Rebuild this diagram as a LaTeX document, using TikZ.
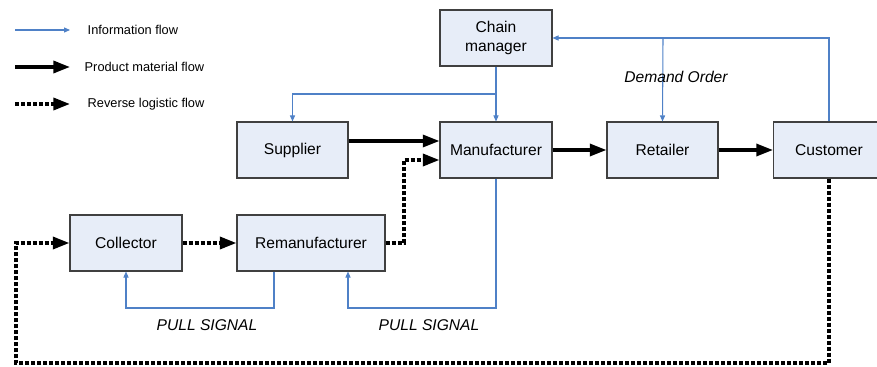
\documentclass[tikz,border=0pt]{standalone}
\usepackage{fontspec}
\setmainfont{Liberation Sans}
\usetikzlibrary{arrows.meta}

\definecolor{boxfill}{RGB}{231,237,248}
\definecolor{boxline}{RGB}{64,64,64}
\definecolor{infoblue}{RGB}{79,129,199}

\tikzset{
  unit/.style={draw=boxline, fill=boxfill, line width=0.8pt, minimum width=83.25pt,
    minimum height=42pt, inner sep=2pt, font=\fontsize{11.7}{14}\selectfont, align=center},
  info/.style={draw=infoblue, line width=0.8pt, -{Triangle[length=4.5pt,width=3.8pt]}},
  product/.style={draw=black, line width=2.5pt, -{Triangle[length=12.5pt,width=9pt]}},
  reverse/.style={draw=black, line width=2.6pt, dash pattern=on 3pt off 1.5pt,
    -{Triangle[length=12.5pt,width=9pt]}},
  legendtext/.style={anchor=west, font=\fontsize{9.6}{11}\selectfont},
  remark/.style={font=\fontsize{11.7}{14}\itshape\selectfont}
}

\begin{document}
\begin{tikzpicture}[x=0.75pt, y=-0.75pt]
  \useasboundingbox (0,0) rectangle (877,367);

  % legend
  \coordinate (infoA) at (15,30);
  \coordinate (infoB) at (70,30);
  \coordinate (prodA) at (15,67);
  \coordinate (prodB) at (70,67);
  \coordinate (revA) at (15,104);
  \coordinate (revB) at (70,104);
  \draw[info] (infoA) -- (infoB);
  \draw[product] (prodA) -- (prodB);
  \draw[reverse] (revA) -- (revB);
  \node[legendtext] (infotext) at (83,30) {Information flow};
  \node[legendtext] (prodtext) at (80,67) {Product material flow};
  \node[legendtext] (revtext) at (83,104) {Reverse logistic flow};

  % units
  \node[unit, minimum width=84pt] (chain) at (496,38) {Chain\\manager};
  \node[unit] (supplier) at (292.5,150) {Supplier};
  \node[unit, minimum width=84pt] (manufacturer) at (496,150) {Manufacturer};
  \node[unit] (retailer) at (662.5,150) {Retailer};
  \node[unit] (customer) at (829,150) {Customer};
  \node[unit, minimum width=84pt] (collector) at (126,243) {Collector};
  \node[unit, minimum width=111pt] (reman) at (311,243) {Remanufacturer};

  % information flow
  \coordinate (split) at (496,94);
  \coordinate (demand) at (663,38);
  \coordinate (pullA) at (274,308);
  \coordinate (pullB) at (348,308);
  \draw[info] (customer.north) |- (chain.east);
  \draw[info] (demand) -- (retailer.north);
  \draw[info] (chain.south) -- (manufacturer.north);
  \draw[info] (split) -| (supplier.north);
  \draw[info] (manufacturer.south) |- (pullB) -- (pullB |- reman.south);
  \draw[info] (pullA |- reman.south) -- (pullA) -| (collector.south);

  % product flow
  \draw[product] ([yshift=6.75pt]supplier.east) -- ([yshift=6.75pt]manufacturer.west);
  \draw[product] (manufacturer) -- (retailer);
  \draw[product] (retailer) -- (customer);

  % reverse flow
  \coordinate (bend) at (404,243);
  \coordinate (corner) at (16,363);
  \draw[reverse] (collector) -- (reman);
  \draw[reverse] (reman.east) -- (bend) |- ([yshift=-7.5pt]manufacturer.west);
  \draw[reverse] (customer.south) |- (corner) |- (collector.west);

  % labels
  \node[remark] (demandtext) at (676,77) {Demand Order};
  \node[remark] (pulltextA) at (207,325) {PULL SIGNAL};
  \node[remark] (pulltextB) at (429,325) {PULL SIGNAL};
\end{tikzpicture}
\end{document}
